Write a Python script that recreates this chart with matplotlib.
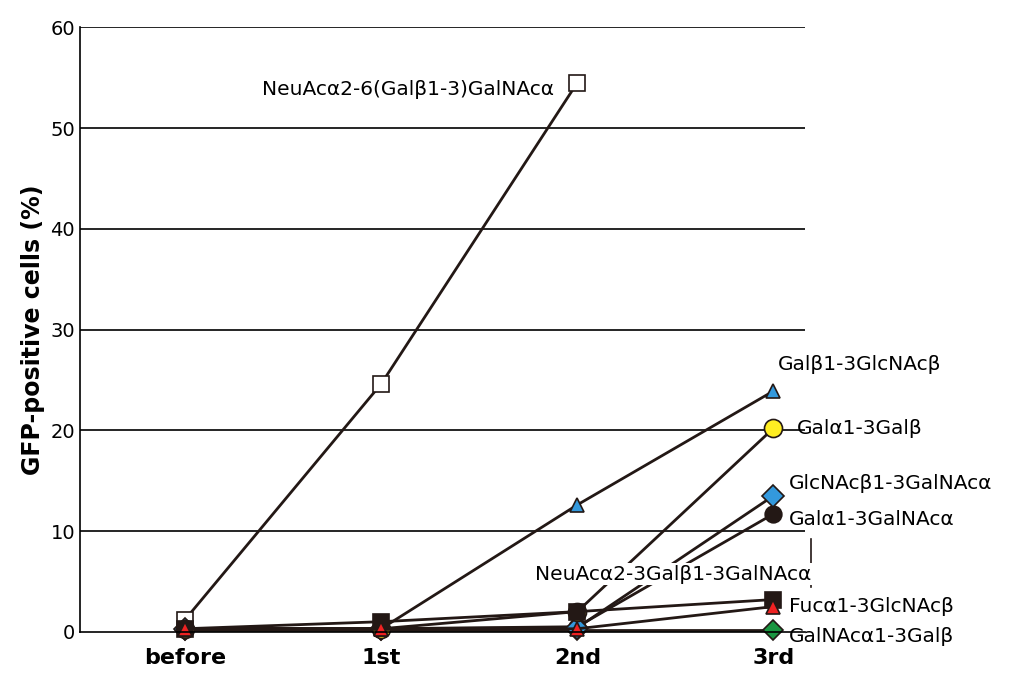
import matplotlib
matplotlib.use("Agg")
import matplotlib.pyplot as plt

categories = ["before", "1st", "2nd", "3rd"]
neu26 = [1.2, 24.6, 54.5, None]
gal_glcnac = [0.3, 0.3, 12.6, 23.9]
gal_gal = [0.3, 0.3, 2.0, 20.2]
glcnac_galnac = [0.3, 0.3, 0.4, 13.5]
gal_galnac = [0.3, 0.3, 0.5, 11.7]
neu23 = [0.3, 1.0, 2.0, 3.2]
fuc = [0.3, 0.3, 0.3, 2.5]
galnac_gal = [0.2, 0.2, 0.2, 0.2]

fig = plt.figure(figsize=(10.24, 6.83), dpi=100)
ax = fig.add_axes([0.078, 0.075, 0.708, 0.885])
x = list(range(4))
for v in [10, 20, 30, 40, 50, 60]:
    ax.axhline(v, color="black", lw=1.2, zorder=0)

def series(vals, marker, fc, ms=11):
    xs = [i for i, v in zip(x, vals) if v is not None]
    ys = [v for v in vals if v is not None]
    ax.plot(xs, ys, color="#231815", lw=2, marker=marker, mfc=fc, mec="#231815",
            mew=1.2, ms=ms, clip_on=False)

series(neu26, "s", "white")
series(galnac_gal, "D", "#1a9641", 10)
series(gal_galnac, "o", "#231815", 12)
series(glcnac_galnac, "D", "#3399dd", 11)
series(gal_gal, "o", "#ffee22", 13)
series(gal_glcnac, "^", "#3399dd", 10)
series(neu23, "s", "#231815", 11)
series(fuc, "^", "#ee2222", 10)

ax.set_xlim(-0.536, 3.16)
ax.set_ylim(0, 60)
ax.set_xticks(x)
ax.set_xticklabels(categories, fontsize=16, fontweight="bold")
ax.set_yticks(range(0, 61, 10))
ax.tick_params(axis="y", labelsize=14, length=0)
ax.tick_params(axis="x", length=0, pad=12)
ax.set_ylabel("GFP-positive cells (%)", fontsize=17, fontweight="bold")
for s in ["top", "right"]:
    ax.spines[s].set_visible(False)
ax.spines["left"].set_linewidth(1.2)
ax.spines["bottom"].set_linewidth(1.2)

fs = 14.5
ax.text(1.88, 53.8, "NeuAcα2-6(Galβ1-3)GalNAcα", fontsize=fs, ha="right", va="center")
ax.text(3.02, 26.5, "Galβ1-3GlcNAcβ", fontsize=fs, va="center")
ax.text(3.12, 20.2, "Galα1-3Galβ", fontsize=fs, va="center")
ax.text(3.08, 14.7, "GlcNAcβ1-3GalNAcα", fontsize=fs, va="center")
ax.text(3.08, 11.1, "Galα1-3GalNAcα", fontsize=fs, va="center")
ax.text(2.49, 5.7, "NeuAcα2-3Galβ1-3GalNAcα", fontsize=fs, ha="center", va="center",
        bbox=dict(fc="white", ec="none", pad=1), zorder=5)
ax.text(3.08, 2.5, "Fucα1-3GlcNAcβ", fontsize=fs, va="center")
ax.text(3.08, -0.5, "GalNAcα1-3Galβ", fontsize=fs, va="center")
ax.plot([3.19, 3.19], [4.4, 9.2], color="#231815", lw=1.2, clip_on=False)
fig.savefig("out.png", dpi=100)
